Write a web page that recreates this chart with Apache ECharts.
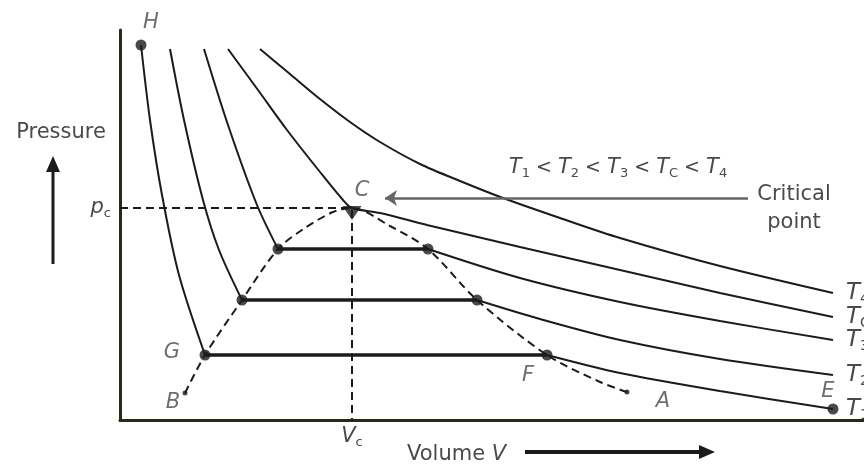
<!DOCTYPE html>
<html>
<head>
<meta charset="utf-8">
<script src="https://cdn.jsdelivr.net/npm/echarts@6/dist/echarts.min.js"></script>
<style>
  html, body { margin: 0; padding: 0; background: #fff; }
  #chart { width: 864px; height: 464px; }
</style>
</head>
<body>
<div id="chart"></div>
<script>
// Van der Waals style P–V isotherms (arbitrary units: V across, P up)

// Critical point [V_c, p_c]
const critical = [23.2, 21.2];

// Isotherm branches: liquid side (steep) and gas side (shallow)
const T1_liquid = [[2.1, 37.5], [3.0, 30.0], [4.2, 22.5], [5.9, 14.5], [8.5, 6.5]];
const T1_gas    = [[42.7, 6.5], [50.0, 4.7], [60.0, 2.9], [71.3, 1.1]];
const T2_liquid = [[5.0, 37.1], [6.4, 30.0], [8.3, 22.0], [9.9, 17.0], [12.2, 12.0]];
const T2_gas    = [[35.7, 12.0], [42.0, 10.1], [50.0, 8.0], [60.0, 6.1], [71.3, 4.5]];
const T3_liquid = [[8.4, 37.1], [10.8, 29.5], [13.7, 21.5], [15.8, 17.1]];
const T3_gas    = [[30.8, 17.1], [40.0, 14.2], [50.0, 11.8], [60.0, 9.9], [71.3, 8.0]];
const Tc_curve  = [[10.8, 37.1], [13.8, 33.0], [16.7, 29.0], [20.0, 24.8], [22.3, 22.0], [23.2, 21.2],
                   [26.0, 20.7], [30.7, 19.5], [40.0, 17.3], [50.0, 15.0], [60.0, 12.7], [71.3, 10.3]];
const T4_curve  = [[14.0, 37.1], [17.0, 34.6], [20.0, 32.1], [23.0, 29.8], [26.0, 27.8], [30.0, 25.6],
                   [34.0, 23.9], [38.3, 22.2], [44.0, 20.2], [50.0, 18.2], [60.0, 15.4], [71.3, 12.7]];

// Saturation (coexistence) dome, from B through C to A
const dome = [[6.5, 2.7], [8.5, 6.5], [12.2, 12.0], [15.8, 17.1], [18.5, 19.2], [21.3, 20.8], [23.2, 21.2],
              [27.0, 19.4], [30.8, 17.1], [35.7, 12.0], [42.7, 6.5], [48.0, 3.8], [50.7, 2.8]];

// Arrow pointing at the critical point (tail, head)
const criticalArrow = [[62.8, 22.2], [26.5, 22.2]];

// Curve labels at the right end
const curveSubs = { T1: '1', T2: '2', T3: '3', Tc: 'C', T4: '4' };

const INK = '#1b1b1b';
const AXIS = '#2a2818';
const TEXT = '#4a4a4a';
const FONT = 'DejaVu Sans';

const subRich = {
  t: { fontStyle: 'italic', fontSize: 21, color: TEXT, fontFamily: FONT, lineHeight: 24 },
  s: { fontSize: 13, color: TEXT, fontFamily: FONT, verticalAlign: 'bottom', lineHeight: 14 }
};

function branch(data, withLabel, key) {
  const s = {
    type: 'line', data: data, smooth: 0.3, symbol: 'none', silent: true,
    lineStyle: { color: INK, width: 2 }, z: 3
  };
  if (withLabel) {
    s.endLabel = {
      show: true, distance: 13,
      formatter: '{t|T}{s|' + curveSubs[key] + '}',
      rich: {
        t: { fontStyle: 'italic', fontSize: 23, color: TEXT, fontFamily: FONT, lineHeight: 26 },
        s: { fontSize: 14, color: TEXT, fontFamily: FONT, verticalAlign: 'bottom', lineHeight: 15 }
      }
    };
  }
  return s;
}

function tie(liquid, gas) {
  return {
    type: 'line', data: [liquid[liquid.length - 1], gas[0]], symbol: 'none', silent: true,
    lineStyle: { color: INK, width: 3.5 }, z: 3
  };
}

function pointLabel(text, offset) {
  return {
    show: true, formatter: text, offset: offset, position: 'inside',
    fontStyle: 'italic', fontSize: 21, color: TEXT, fontFamily: FONT
  };
}

const satPoints = [
  T1_liquid[T1_liquid.length - 1], T2_liquid[T2_liquid.length - 1], T3_liquid[T3_liquid.length - 1],
  T3_gas[0], T2_gas[0], T1_gas[0]
];

const chart = echarts.init(document.getElementById('chart'), null, { renderer: 'canvas' });

chart.setOption({
  animation: false,
  backgroundColor: '#fff',
  grid: { left: 120, right: 0, top: 30, bottom: 44 },
  xAxis: {
    type: 'value', min: 0, max: 74.4,
    axisLine: { show: true, lineStyle: { color: AXIS, width: 3 } },
    axisTick: { show: false }, splitLine: { show: false },
    axisLabel: {
      customValues: [critical[0]], margin: 5,
      formatter: () => '{t|V}{s|c}',
      rich: subRich
    }
  },
  yAxis: {
    type: 'value', min: 0, max: 39,
    axisLine: { show: true, lineStyle: { color: AXIS, width: 3 } },
    axisTick: { show: false }, splitLine: { show: false },
    axisLabel: {
      customValues: [critical[1]], margin: 9,
      formatter: () => '{t|p}{s|c}',
      rich: {
        t: { fontStyle: 'italic', fontSize: 21, color: TEXT, fontFamily: FONT, lineHeight: 24 },
        s: { fontSize: 13, color: TEXT, fontFamily: FONT, verticalAlign: 'bottom', lineHeight: 13 }
      }
    }
  },
  series: [
    // dashed guides to p_c and V_c, plus the "critical point" pointer
    {
      type: 'line', data: [[0, critical[1]], critical, [critical[0], 0]],
      symbol: 'none', silent: true,
      lineStyle: { color: INK, width: 2, type: [8, 5] }, z: 2,
      markLine: {
        silent: true, symbol: ['none', 'arrow'], symbolSize: 12,
        label: { show: false },
        lineStyle: { color: '#666', width: 2.5, type: 'solid' },
        data: [[{ coord: criticalArrow[0] }, { coord: criticalArrow[1] }]]
      }
    },
    // saturation dome
    {
      type: 'line', data: dome, smooth: 0.3, symbol: 'none', silent: true,
      lineStyle: { color: INK, width: 2, type: [8, 5] }, z: 2
    },
    branch(T1_liquid), tie(T1_liquid, T1_gas), branch(T1_gas, true, 'T1'),
    branch(T2_liquid), tie(T2_liquid, T2_gas), branch(T2_gas, true, 'T2'),
    branch(T3_liquid), tie(T3_liquid, T3_gas), branch(T3_gas, true, 'T3'),
    branch(Tc_curve, true, 'Tc'),
    branch(T4_curve, true, 'T4'),
    // saturation points on the tie lines
    {
      type: 'scatter', silent: true, symbol: 'circle', symbolSize: 11,
      itemStyle: { color: INK }, z: 5,
      data: satPoints.map((p, i) => {
        if (i === 0) return { value: p, label: pointLabel('G', [-33, -2]) };
        if (i === 5) return { value: p, label: pointLabel('F', [-19, 21]) };
        return { value: p };
      })
    },
    // end points H and E
    {
      type: 'scatter', silent: true, symbol: 'circle', symbolSize: 11,
      itemStyle: { color: INK }, z: 5,
      data: [
        { value: T1_liquid[0], label: pointLabel('H', [10, -22]) },
        { value: T1_gas[T1_gas.length - 1], label: pointLabel('E', [-5, -17]) }
      ]
    },
    // dome end points B and A
    {
      type: 'scatter', silent: true, symbol: 'circle', symbolSize: 5,
      itemStyle: { color: INK }, z: 5,
      data: [
        { value: dome[0], label: pointLabel('B', [-12, 10]) },
        { value: dome[dome.length - 1], label: pointLabel('A', [36, 10]) }
      ]
    },
    // critical point marker
    {
      type: 'scatter', silent: true, symbol: 'path://M0,0 L20,0 L10,15 Z',
      symbolSize: [19, 14], symbolOffset: [0, 5],
      itemStyle: { color: INK }, z: 6,
      data: [{ value: critical, label: pointLabel('C', [10, -22]) }]
    }
  ],
  graphic: [
    { type: 'text', silent: true, style: { x: 61, y: 133, text: 'Pressure', align: 'center', verticalAlign: 'middle',
      fill: TEXT, font: '21px "DejaVu Sans"' } },
    { type: 'line', silent: true, shape: { x1: 53, y1: 264, x2: 53, y2: 168 }, style: { stroke: INK, lineWidth: 3 } },
    { type: 'polygon', silent: true, shape: { points: [[53, 156], [46, 172], [60, 172]] }, style: { fill: INK } },
    { type: 'text', silent: true, style: { x: 407, y: 455, text: '{a|Volume }{b|V}', verticalAlign: 'middle',
      rich: { a: { fill: TEXT, font: '21px "DejaVu Sans"' }, b: { fill: TEXT, font: 'italic 21px "DejaVu Sans"' } } } },
    { type: 'line', silent: true, shape: { x1: 525, y1: 452, x2: 702, y2: 452 }, style: { stroke: INK, lineWidth: 4 } },
    { type: 'polygon', silent: true, shape: { points: [[715, 452], [699, 445], [699, 459]] }, style: { fill: INK } },
    { type: 'text', silent: true, style: { x: 618, y: 168, align: 'center', verticalAlign: 'middle',
      text: '{t|T}{s|1}{o| < }{t|T}{s|2}{o| < }{t|T}{s|3}{o| < }{t|T}{s|C}{o| < }{t|T}{s|4}',
      rich: {
        t: { fill: TEXT, font: 'italic 21px "DejaVu Sans"', lineHeight: 24 },
        s: { fill: TEXT, font: '13px "DejaVu Sans"', verticalAlign: 'bottom', lineHeight: 14 },
        o: { fill: TEXT, font: '19px "DejaVu Sans"', lineHeight: 24 }
      } } },
    { type: 'text', silent: true, style: { x: 794, y: 209, align: 'center', verticalAlign: 'middle',
      text: 'Critical\npoint', lineHeight: 28, fill: TEXT, font: '21px "DejaVu Sans"' } }
  ]
});
</script>
</body>
</html>
